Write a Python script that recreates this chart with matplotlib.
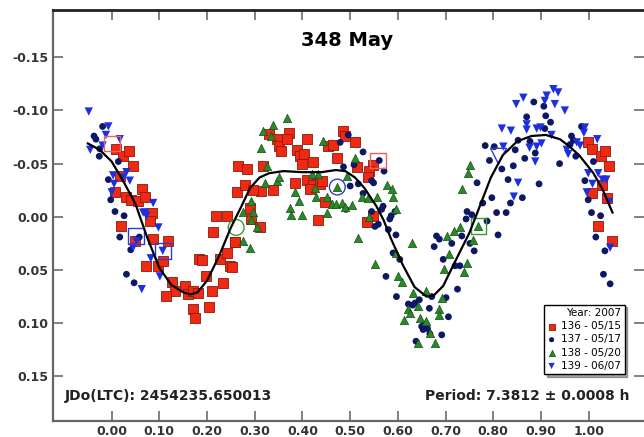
import numpy as np
import matplotlib
matplotlib.use("Agg")
import matplotlib.pyplot as plt

# session 136 - 05/15 (phase, reduced mag)
s136 = np.array([
    (0.010, -0.064), (0.024, -0.057), (0.036, -0.062), (0.044, -0.048), (0.018, -0.038),
    (0.007, -0.023), (0.030, -0.019), (0.040, -0.016), (0.056, -0.015), (0.063, -0.026),
    (0.070, -0.019), (0.080, -0.002), (0.084, -0.004), (0.081, 0.004), (0.019, 0.009),
    (0.049, 0.023), (0.087, 0.021), (0.119, 0.023), (0.073, 0.046), (0.098, 0.046),
    (0.108, 0.042), (0.126, 0.061), (0.133, 0.070), (0.114, 0.074), (0.154, 0.065),
    (0.161, 0.073), (0.171, 0.070), (0.182, 0.072), (0.171, 0.087), (0.175, 0.095),
    (0.205, 0.085), (0.210, 0.070), (0.198, 0.056), (0.234, 0.062), (0.184, 0.040),
    (0.189, 0.041), (0.227, 0.040), (0.241, 0.034), (0.249, 0.046), (0.258, 0.024),
    (0.213, 0.014), (0.219, -0.001), (0.241, -0.001), (0.265, -0.048), (0.262, -0.023),
    (0.283, -0.045), (0.279, -0.030), (0.317, -0.048), (0.314, -0.024), (0.338, -0.025),
    (0.297, -0.025), (0.330, -0.078), (0.346, -0.073), (0.351, -0.067), (0.356, -0.062),
    (0.372, -0.079), (0.368, -0.073), (0.410, -0.073), (0.388, -0.063), (0.395, -0.057),
    (0.403, -0.059), (0.398, -0.050), (0.423, -0.052), (0.454, -0.067), (0.465, -0.068),
    (0.484, -0.081), (0.489, -0.076), (0.510, -0.070), (0.472, -0.055), (0.514, -0.047),
    (0.548, -0.049), (0.540, -0.043), (0.538, -0.037), (0.384, -0.032), (0.416, -0.031),
    (0.410, -0.035), (0.422, -0.030), (0.437, -0.031), (0.440, -0.034), (0.416, -0.026),
    (0.447, -0.014), (0.548, -0.001), (0.433, 0.003), (0.289, -0.008), (0.293, 0.002),
    (0.311, 0.010), (0.259, 0.024), (0.252, 0.047), (0.535, 0.005), (0.999, -0.070),
    (1.008, -0.064), (1.025, -0.057), (1.034, -0.062), (1.043, -0.048), (1.027, -0.030),
    (1.006, -0.022), (1.038, -0.018), (1.020, 0.009), (1.048, 0.023),
])

# session 137 - 05/17
s137 = np.array([
    (-0.019, -0.085), (-0.037, -0.076), (-0.033, -0.073), (-0.025, -0.064), (-0.026, -0.057),
    (0.014, -0.052), (-0.007, -0.035), (-0.002, -0.016), (0.007, -0.005), (0.026, -0.001),
    (0.017, 0.019), (0.058, 0.019), (0.040, 0.031), (0.031, 0.054), (0.047, 0.062),
    (0.479, -0.070), (0.496, -0.077), (0.527, -0.061), (0.508, -0.049), (0.561, -0.053),
    (0.571, -0.043), (0.545, -0.034), (0.549, -0.032), (0.517, -0.031), (0.486, -0.047),
    (0.500, -0.029), (0.491, -0.007), (0.527, -0.022), (0.545, -0.005), (0.569, -0.010),
    (0.583, 0.002), (0.594, -0.005), (0.552, 0.009), (0.559, 0.007), (0.580, 0.012),
    (0.596, 0.017), (0.590, 0.034), (0.575, 0.056), (0.597, 0.075), (0.566, -0.007),
    (0.586, -0.001), (0.604, 0.040), (0.622, 0.082), (0.631, 0.083), (0.636, 0.081),
    (0.645, 0.078), (0.650, 0.103), (0.657, 0.101), (0.662, 0.105), (0.653, 0.106),
    (0.667, 0.110), (0.638, 0.117), (0.666, 0.086), (0.692, 0.111), (0.706, 0.094),
    (0.671, 0.075), (0.701, 0.076), (0.725, 0.068), (0.681, 0.018), (0.687, 0.021),
    (0.676, 0.028), (0.713, 0.025), (0.734, 0.018), (0.695, 0.040), (0.720, 0.046),
    (0.730, 0.046), (0.760, 0.032), (0.751, 0.025), (0.743, 0.002), (0.745, -0.005),
    (0.755, -0.002), (0.787, 0.004), (0.807, -0.004), (0.827, -0.004), (0.810, 0.017),
    (0.766, -0.032), (0.797, -0.018), (0.778, -0.013), (0.783, -0.067), (0.802, -0.066),
    (0.792, -0.053), (0.818, -0.045), (0.831, -0.035), (0.842, -0.048), (0.836, -0.013),
    (0.861, -0.018), (0.896, -0.031), (0.885, -0.108), (0.870, -0.094), (0.877, -0.071),
    (0.888, -0.060), (0.852, -0.072), (0.846, -0.063), (0.866, -0.055), (0.910, -0.095),
    (0.920, -0.089), (0.906, -0.104), (0.908, -0.083), (0.939, -0.050), (0.964, -0.076),
    (0.968, -0.072), (0.985, -0.085), (0.961, -0.068), (0.973, -0.057), (1.010, -0.052),
    (0.992, -0.034), (0.999, -0.016), (1.006, -0.004), (1.025, -0.001), (1.015, 0.019),
    (1.034, 0.032), (1.031, 0.054), (1.045, 0.063),
])

# session 138 - 05/20
s138 = np.array([
    (0.368, -0.093), (0.339, -0.086), (0.318, -0.081), (0.333, -0.076), (0.314, -0.065),
    (0.444, -0.071), (0.510, -0.055), (0.494, -0.038), (0.326, -0.048), (0.321, -0.032),
    (0.346, -0.034), (0.351, -0.037), (0.384, -0.023), (0.426, -0.027), (0.433, -0.040),
    (0.421, -0.040), (0.393, -0.015), (0.428, -0.019), (0.451, -0.019), (0.461, -0.012),
    (0.470, -0.012), (0.482, -0.013), (0.489, -0.009), (0.503, -0.011), (0.524, -0.019),
    (0.538, -0.018), (0.556, -0.019), (0.577, -0.030), (0.587, -0.026), (0.589, -0.019),
    (0.293, -0.015), (0.276, -0.005), (0.297, -0.005), (0.374, -0.008), (0.377, -0.002),
    (0.398, -0.002), (0.451, -0.004), (0.293, 0.003), (0.473, -0.028), (0.304, 0.010),
    (0.275, 0.023), (0.290, 0.029), (0.517, 0.020), (0.552, 0.044), (0.597, -0.007),
    (0.601, 0.056), (0.540, 0.000), (0.751, -0.049), (0.748, -0.041), (0.734, -0.026),
    (0.597, 0.034), (0.629, 0.025), (0.608, 0.061), (0.632, 0.072), (0.613, 0.097),
    (0.622, 0.087), (0.625, 0.090), (0.646, 0.095), (0.643, 0.084), (0.643, 0.119),
    (0.678, 0.119), (0.667, 0.109), (0.660, 0.098), (0.687, 0.087), (0.686, 0.092),
    (0.692, 0.076), (0.659, 0.070), (0.702, 0.018), (0.718, 0.013), (0.730, 0.010),
    (0.708, 0.035), (0.697, 0.049), (0.744, 0.043), (0.739, 0.052), (0.758, 0.022),
    (0.769, 0.009),
])

# session 139 - 06/07
s139 = np.array([
    (-0.048, -0.099), (-0.007, -0.085), (-0.012, -0.077), (-0.045, -0.063), (-0.019, -0.067),
    (0.017, -0.073), (0.003, -0.039), (0.005, -0.031), (0.031, -0.042), (0.038, -0.034),
    (0.024, -0.037), (0.000, -0.023), (0.087, -0.013), (0.070, -0.004), (0.066, -0.004),
    (0.073, -0.001), (0.098, 0.010), (0.045, 0.029), (0.052, 0.023), (0.082, 0.039),
    (0.101, 0.056), (0.063, 0.068), (0.107, 0.032), (0.818, -0.083), (0.837, -0.081),
    (0.852, -0.032), (0.843, -0.019), (0.888, -0.052), (0.901, -0.069), (0.870, -0.087),
    (0.848, -0.106), (0.863, -0.112), (0.870, -0.082), (0.891, -0.083), (0.899, -0.084),
    (0.922, -0.077), (0.876, -0.065), (0.891, -0.066), (0.926, -0.120), (0.912, -0.114),
    (0.929, -0.106), (0.936, -0.117), (0.821, -0.066), (0.908, -0.109), (0.950, -0.100),
    (0.954, -0.063), (0.957, -0.059), (0.982, -0.067), (0.992, -0.084), (0.990, -0.079),
    (0.975, -0.070), (1.018, -0.073), (0.999, -0.041), (1.008, -0.031), (1.020, -0.041),
    (1.029, -0.035), (1.037, -0.035), (0.996, -0.023), (1.043, -0.014), (1.045, 0.029),
])

# first point of each session, drawn as a larger open marker
first_136 = np.array([(0.000, -0.069), (0.559, -0.053)])
first_137 = np.array([(0.473, -0.028)])
first_138_sq = np.array([(0.769, 0.009)])
first_138_circ = np.array([(0.261, 0.010)])
first_139_sq = np.array([(0.051, 0.018), (0.107, 0.032)])
first_139_tri = np.array([(0.811, -0.057)])

# Fourier fit
fit_phase = [-0.05, -0.025, 0.0, 0.025, 0.05, 0.075, 0.10, 0.125, 0.15, 0.165, 0.18,
             0.20, 0.225, 0.25, 0.27, 0.29, 0.31, 0.33, 0.36, 0.40, 0.44, 0.47, 0.49,
             0.51, 0.53, 0.555, 0.57, 0.585, 0.61, 0.635, 0.66, 0.675, 0.695, 0.72,
             0.75, 0.77, 0.795, 0.82, 0.85, 0.88, 0.91, 0.94, 0.96, 0.98, 1.01, 1.03, 1.05]
fit_mag = [-0.069, -0.063, -0.052, -0.033, -0.012, 0.020, 0.048, 0.064, 0.071, 0.073, 0.071,
           0.060, 0.037, 0.010, -0.008, -0.027, -0.037, -0.041, -0.043, -0.042, -0.042, -0.044, -0.043,
           -0.037, -0.027, -0.010, 0.003, 0.020, 0.045, 0.066, 0.075, 0.074, 0.065, 0.042,
           0.015, -0.008, -0.037, -0.058, -0.071, -0.076, -0.077, -0.073, -0.066, -0.058, -0.041, -0.025, -0.004]

session_labels = ["136 - 05/15", "137 - 05/17", "138 - 05/20", "139 - 06/07"]
x_ticks = [0.0, 0.1, 0.2, 0.3, 0.4, 0.5, 0.6, 0.7, 0.8, 0.9, 1.0]
y_ticks = [-0.15, -0.10, -0.05, 0.0, 0.05, 0.10, 0.15]

RED, RED_EDGE = "#f02a12", "#8a1a0e"
NAVY = "#0d1766"
GREEN, GREEN_EDGE = "#2a8a2a", "#165216"
BLUE = "#1d2fe0"

fig = plt.figure(figsize=(6.44, 4.37), dpi=100)
ax = fig.add_axes([53 / 644, 16 / 437, 591 / 644, 411 / 437])

ax.scatter(s136[:, 0], s136[:, 1], marker="s", s=42, c=RED, edgecolors=RED_EDGE,
           linewidths=0.6, label=session_labels[0], zorder=2)
ax.scatter(s137[:, 0], s137[:, 1], marker="o", s=24, c=NAVY, edgecolors="none",
           label=session_labels[1], zorder=2)
ax.scatter(s138[:, 0], s138[:, 1], marker="^", s=36, c=GREEN, edgecolors=GREEN_EDGE,
           linewidths=0.5, label=session_labels[2], zorder=2)
ax.scatter(s139[:, 0], s139[:, 1], marker="v", s=36, c=BLUE, edgecolors="none",
           label=session_labels[3], zorder=2)

open_kw = dict(s=130, facecolors="none", linewidths=1.0, zorder=3)
ax.scatter(first_136[:, 0], first_136[:, 1], marker="s", edgecolors="#f06060", **open_kw)
ax.scatter(first_137[:, 0], first_137[:, 1], marker="o", edgecolors="#3040c0", **open_kw)
ax.scatter(first_138_sq[:, 0], first_138_sq[:, 1], marker="s", edgecolors="#3a9a3a", **open_kw)
ax.scatter(first_138_circ[:, 0], first_138_circ[:, 1], marker="o", edgecolors="#3a9a3a", **open_kw)
ax.scatter(first_139_sq[:, 0], first_139_sq[:, 1], marker="s", edgecolors="#2a3ae0", **open_kw)
ax.scatter(first_139_tri[:, 0], first_139_tri[:, 1], marker="v", edgecolors="#2a3ae0", **open_kw)

ax.plot(fit_phase, fit_mag, color="black", lw=1.6, zorder=4)

ax.set_xlim(-0.123, 1.116)
ax.set_ylim(0.192, -0.1945)

ax.set_xticks(x_ticks)
ax.set_yticks(y_ticks)
ax.set_xticklabels([f"{v:.2f}" for v in x_ticks])
ax.set_yticklabels([f"{v:.2f}" for v in y_ticks])
ax.tick_params(direction="in", length=7, width=1.3, color="#777777",
               top=True, right=True, labelsize=9, labelcolor="#333333", pad=3)
for lab in ax.get_xticklabels() + ax.get_yticklabels():
    lab.set_fontweight("bold")

ax.spines["right"].set_visible(False)
ax.spines["top"].set_color("#222222")
ax.spines["top"].set_linewidth(2.0)
for side in ("left", "bottom"):
    ax.spines[side].set_color("#666666")
    ax.spines[side].set_linewidth(1.6)

ax.text(0.498, 0.927, "348 May", transform=ax.transAxes, ha="center", va="center",
        fontsize=14, fontweight="bold")
ax.text(0.02, 0.061, "JDo(LTC): 2454235.650013", transform=ax.transAxes,
        ha="left", va="center", fontsize=10, fontweight="bold", color="#222222")
ax.text(0.976, 0.061, "Period: 7.3812 \u00b1 0.0008 h", transform=ax.transAxes,
        ha="right", va="center", fontsize=10, fontweight="bold", color="#222222")

leg = ax.legend(title="Year: 2007", loc="upper right", bbox_to_anchor=(0.976, 0.296),
                fontsize=7.5, title_fontsize=7.5, frameon=True, fancybox=False,
                shadow=True, edgecolor="black", framealpha=1, borderpad=0.35,
                labelspacing=0.3, handlelength=0.8, handletextpad=0.5,
                markerscale=0.75, alignment="right")
leg.get_frame().set_linewidth(1.0)

fig.savefig("out.png", dpi=100)
